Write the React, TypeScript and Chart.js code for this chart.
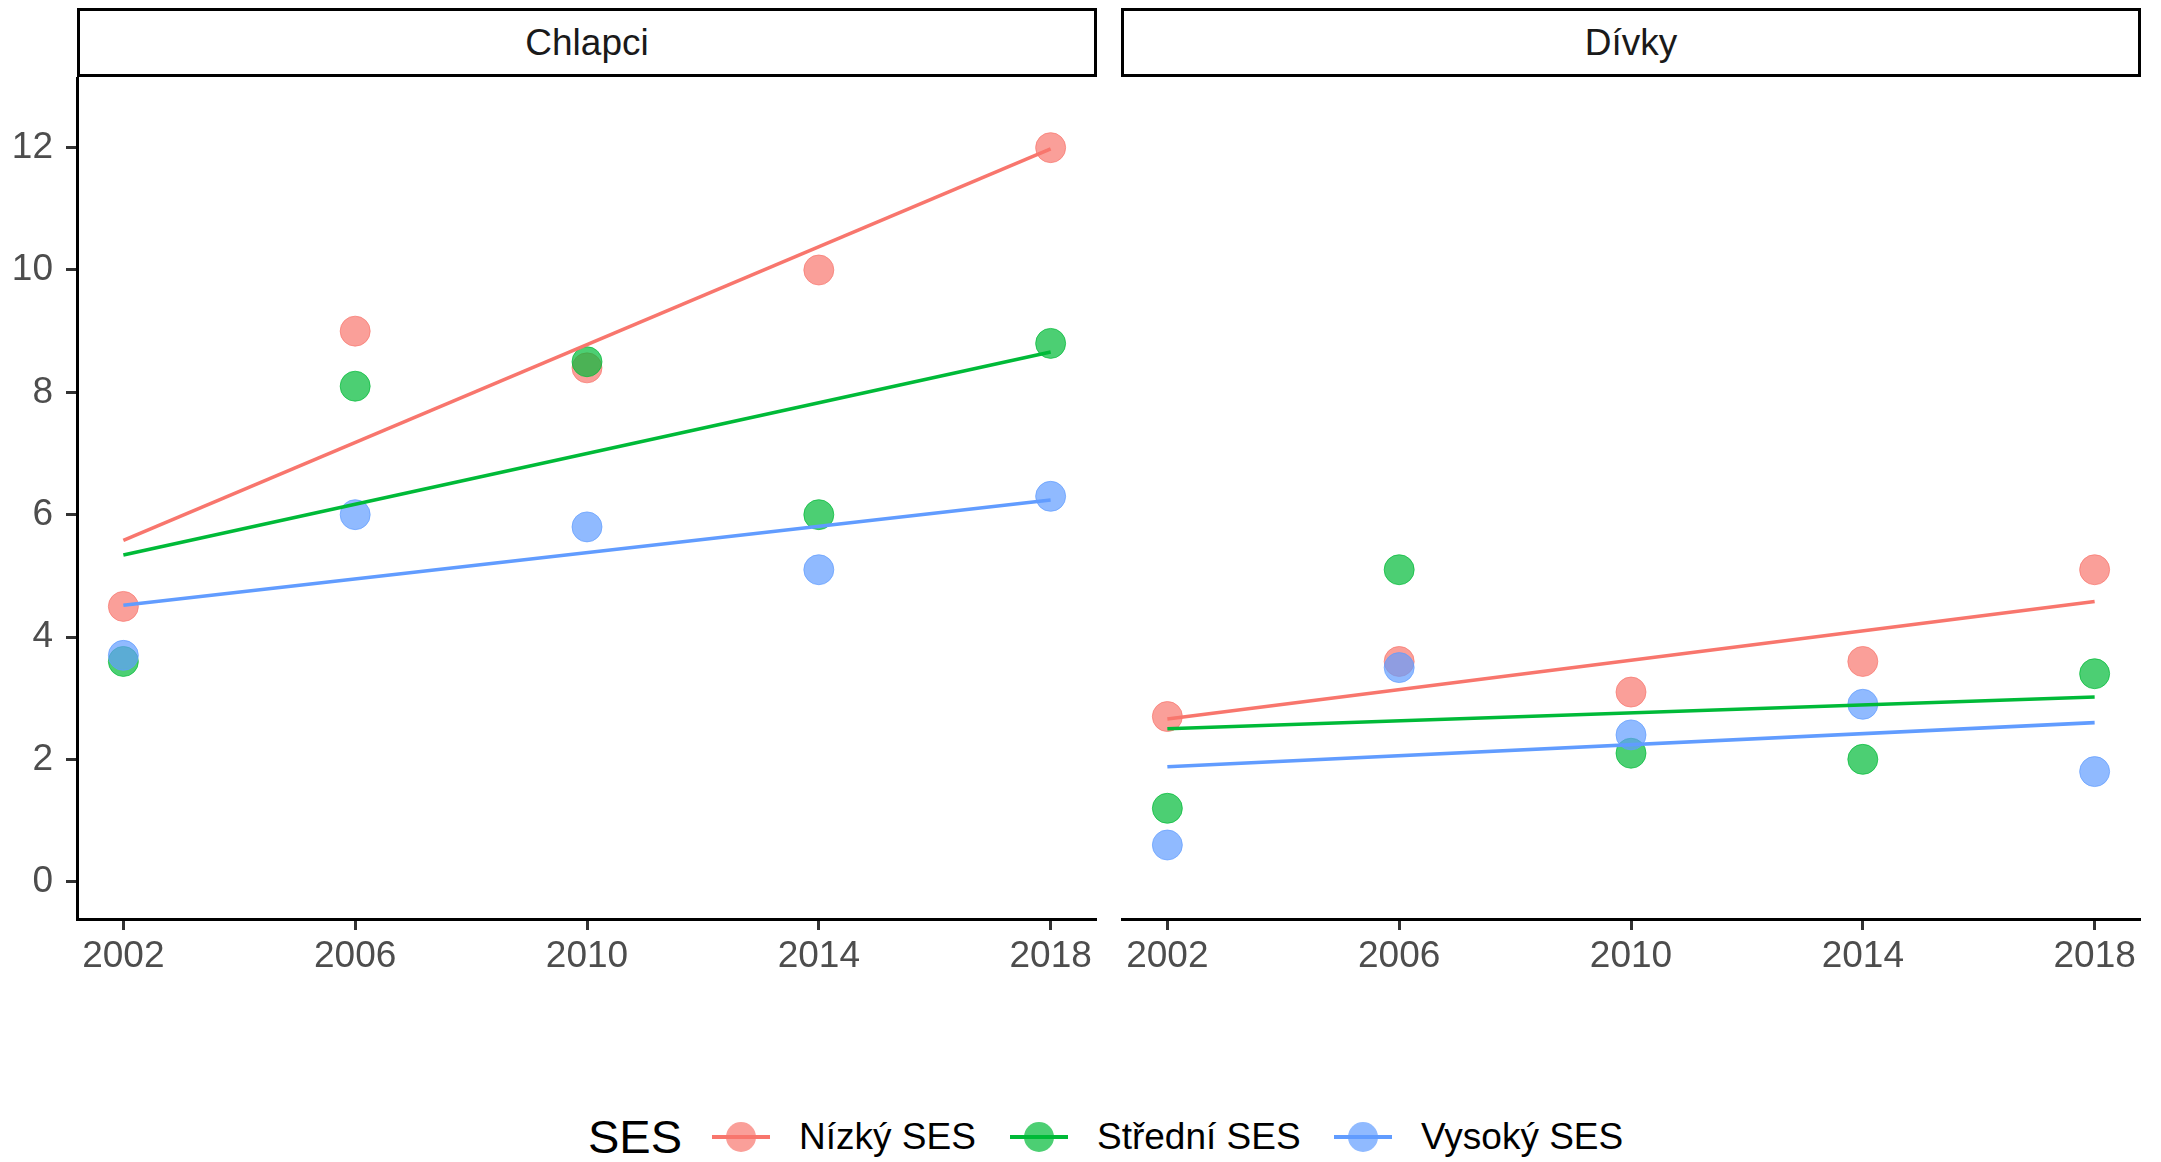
import React, { useEffect, useRef } from "react";
import { Chart, registerables } from "chart.js";

Chart.register(...registerables);

// ---------- data ----------
const years = [2002, 2006, 2010, 2014, 2018];
const yTicks = [0, 2, 4, 6, 8, 10, 12];
const panelTitles = ["Chlapci", "Dívky"];
const seriesNames = ["Nízký SES", "Střední SES", "Vysoký SES"];
const legendTitle = "SES";

const boysLow = [4.5, 9.0, 8.4, 10.0, 12.0];
const boysMid = [3.6, 8.1, 8.5, 6.0, 8.8];
const boysHigh = [3.7, 6.0, 5.8, 5.1, 6.3];

const girlsLow = [2.7, 3.6, 3.1, 3.6, 5.1];
const girlsMid = [1.2, 5.1, 2.1, 2.0, 3.4];
const girlsHigh = [0.6, 3.5, 2.4, 2.9, 1.8];

// fitted trend lines (value at 2002 and at 2018), per SES level
const boysTrendStart = [5.58, 5.34, 4.52];
const boysTrendEnd = [11.98, 8.66, 6.24];
const girlsTrendStart = [2.66, 2.5, 1.88];
const girlsTrendEnd = [4.58, 3.02, 2.6];

// ---------- styles ----------
const COLORS = ["#F8766D", "#00BA38", "#619CFF"];
const FILLS = ["rgba(248,118,109,0.7)", "rgba(0,186,56,0.7)", "rgba(97,156,255,0.7)"];
const FONT = "'Liberation Sans', Arial, Helvetica, sans-serif";

type PanelProps = {
  values: number[][];
  tStart: number[];
  tEnd: number[];
  showY: boolean;
  left: number;
  width: number;
};

function Panel({ values, tStart, tEnd, showY, left, width }: PanelProps) {
  const ref = useRef<HTMLCanvasElement>(null);
  useEffect(() => {
    if (!ref.current) return;
    const pointSets: any[] = values.map((vals, i) => ({
      type: "scatter",
      data: years.map((x, j) => ({ x, y: vals[j] })),
      backgroundColor: FILLS[i],
      borderColor: FILLS[i],
      borderWidth: 1,
      pointRadius: 15,
      pointHoverRadius: 15,
      order: 12 - i,
    }));
    const lineSets: any[] = values.map((_, i) => ({
      type: "line",
      data: [
        { x: years[0], y: tStart[i] },
        { x: years[years.length - 1], y: tEnd[i] },
      ],
      borderColor: COLORS[i],
      backgroundColor: COLORS[i],
      borderWidth: 3.6,
      pointRadius: 0,
      showLine: true,
      fill: false,
      tension: 0,
      order: 3 - i,
    }));
    const chart = new Chart(ref.current, {
      type: "scatter",
      data: { datasets: [...pointSets, ...lineSets] },
      options: {
        responsive: false,
        maintainAspectRatio: false,
        animation: false,
        layout: { padding: 0, autoPadding: false },
        plugins: {
          legend: { display: false },
          tooltip: { enabled: false },
          title: { display: false },
        },
        scales: {
          x: {
            type: "linear",
            min: 2001.2,
            max: 2018.8,
            afterBuildTicks: (s: any) => {
              s.ticks = years.map((v) => ({ value: v }));
            },
            afterFit: (s: any) => {
              s.height = 80;
              s.paddingLeft = 0;
              s.paddingRight = 0;
            },
            grid: {
              display: true,
              drawOnChartArea: false,
              drawTicks: true,
              tickLength: 11,
              tickWidth: 3,
              tickColor: "#333333",
            },
            border: { display: true, color: "#000000", width: 3 },
            ticks: {
              font: { family: FONT, size: 37 },
              color: "#4D4D4D",
              padding: 5,
              maxRotation: 0,
              autoSkip: false,
              callback: (v: any) => String(v),
            },
          },
          y: {
            type: "linear",
            display: showY,
            min: -0.61,
            max: 13.155,
            afterBuildTicks: (s: any) => {
              s.ticks = yTicks.map((v) => ({ value: v }));
            },
            afterFit: (s: any) => {
              s.width = showY ? 77 : 0;
              s.paddingTop = 0;
              s.paddingBottom = 0;
            },
            grid: {
              display: true,
              drawOnChartArea: false,
              drawTicks: true,
              tickLength: 11,
              tickWidth: 3,
              tickColor: "#333333",
            },
            border: { display: true, color: "#000000", width: 3 },
            ticks: {
              font: { family: FONT, size: 37 },
              color: "#4D4D4D",
              padding: 13,
              autoSkip: false,
              callback: (v: any) => String(v),
            },
          },
        },
      } as any,
    });
    return () => chart.destroy();
  }, []);
  return (
    <canvas
      ref={ref}
      width={width}
      height={922}
      style={{ position: "absolute", left, top: 77, width, height: 922 }}
    />
  );
}

function Strip({ title, left }: { title: string; left: number }) {
  return (
    <div
      style={{
        position: "absolute",
        left,
        top: 8,
        width: 1020,
        height: 69,
        boxSizing: "border-box",
        border: "3px solid #000",
        fontFamily: FONT,
        fontSize: 37,
        color: "#1A1A1A",
        display: "flex",
        alignItems: "center",
        justifyContent: "center",
        background: "#fff",
      }}
    >
      {title}
    </div>
  );
}

export default function App() {
  const keyCenters = [741, 1039, 1363];
  return (
    <div
      style={{
        position: "absolute",
        left: 0,
        top: 0,
        width: 2161,
        height: 1162,
        background: "#ffffff",
        overflow: "hidden",
      }}
    >
      <Strip title={panelTitles[0]} left={77} />
      <Strip title={panelTitles[1]} left={1121} />
      <Panel
        values={[boysLow, boysMid, boysHigh]}
        tStart={boysTrendStart}
        tEnd={boysTrendEnd}
        showY={true}
        left={0}
        width={1097}
      />
      <Panel
        values={[girlsLow, girlsMid, girlsHigh]}
        tStart={girlsTrendStart}
        tEnd={girlsTrendEnd}
        showY={false}
        left={1121}
        width={1020}
      />
      <div
        style={{
          position: "absolute",
          left: 588,
          top: 1107,
          height: 60,
          lineHeight: "60px",
          fontFamily: FONT,
          fontSize: 47,
          color: "#000",
        }}
      >
        {legendTitle}
      </div>
      {seriesNames.map((name, i) => (
        <React.Fragment key={name}>
          <div
            style={{
              position: "absolute",
              left: keyCenters[i] - 29,
              top: 1135,
              width: 58,
              height: 4,
              background: COLORS[i],
            }}
          />
          <div
            style={{
              position: "absolute",
              left: keyCenters[i] - 15,
              top: 1122,
              width: 30,
              height: 30,
              borderRadius: "50%",
              background: FILLS[i],
            }}
          />
          <div
            style={{
              position: "absolute",
              left: keyCenters[i] + 58,
              top: 1107,
              height: 60,
              lineHeight: "60px",
              fontFamily: FONT,
              fontSize: 37,
              color: "#000",
              whiteSpace: "nowrap",
            }}
          >
            {name}
          </div>
        </React.Fragment>
      ))}
    </div>
  );
}
